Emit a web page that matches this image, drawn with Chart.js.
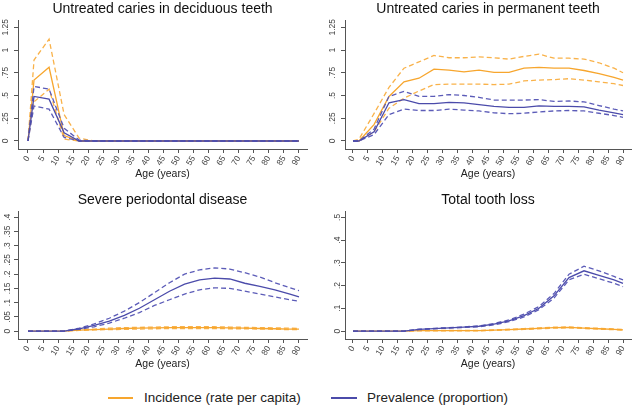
<!DOCTYPE html>
<html><head><meta charset="utf-8">
<script src="https://cdn.jsdelivr.net/npm/chart.js@4"></script>
<style>
body{margin:0;background:#fff;width:635px;height:409px;position:relative;overflow:hidden;font-family:"Liberation Sans",Arial,sans-serif}
canvas{position:absolute}
.lg-line{position:absolute;height:1.5px}
.lg-text{position:absolute;font-size:13.5px;color:#222;line-height:16px;white-space:nowrap}
</style></head><body>
<canvas id="p1" width="317" height="190" style="left:0;top:0"></canvas>
<canvas id="p2" width="318" height="190" style="left:317px;top:0"></canvas>
<canvas id="p3" width="317" height="190" style="left:0;top:190px"></canvas>
<canvas id="p4" width="318" height="190" style="left:317px;top:190px"></canvas>
<div class="lg-line" style="left:108px;top:397px;width:25px;background:#F7A62E"></div>
<div class="lg-text" style="left:144px;top:390px">Incidence (rate per capita)</div>
<div class="lg-line" style="left:331px;top:397px;width:26px;background:#4B4BAA"></div>
<div class="lg-text" style="left:367px;top:390px">Prevalence (proportion)</div>
<script>
// Age points (years)
const ages = [0, 2, 7, 12, 17, 22, 27, 32, 37, 42, 47, 52, 57, 62, 67, 72, 77, 82, 87, 90];
const xTicks = [0,5,10,15,20,25,30,35,40,45,50,55,60,65,70,75,80,85,90];

// Panel 1: Untreated caries in deciduous teeth
const decIncMean = [0,0.67,0.81,0.06,0,0,0,0,0,0,0,0,0,0,0,0,0,0,0,0];
const decIncHi   = [0,0.89,1.12,0.29,0.03,0,0,0,0,0,0,0,0,0,0,0,0,0,0,0];
const decIncLo   = [0,0.43,0.57,0.02,0,0,0,0,0,0,0,0,0,0,0,0,0,0,0,0];
const decPrevMean= [0,0.49,0.46,0.09,0,0,0,0,0,0,0,0,0,0,0,0,0,0,0,0];
const decPrevHi  = [0,0.60,0.57,0.14,0.01,0,0,0,0,0,0,0,0,0,0,0,0,0,0,0];
const decPrevLo  = [0,0.385,0.35,0.04,0,0,0,0,0,0,0,0,0,0,0,0,0,0,0,0];

// Panel 2: Untreated caries in permanent teeth
const perIncMean = [0,0,0.18,0.49,0.65,0.69,0.79,0.78,0.76,0.78,0.755,0.755,0.80,0.81,0.80,0.80,0.775,0.74,0.70,0.67];
const perIncHi   = [0,0.02,0.30,0.59,0.80,0.87,0.94,0.915,0.915,0.925,0.915,0.90,0.93,0.955,0.91,0.91,0.90,0.86,0.80,0.75];
const perIncLo   = [0,0,0.10,0.36,0.47,0.55,0.62,0.625,0.625,0.625,0.62,0.625,0.66,0.67,0.675,0.685,0.67,0.65,0.63,0.61];
const perPrevMean= [0,0,0.10,0.42,0.455,0.41,0.41,0.425,0.42,0.40,0.38,0.37,0.37,0.385,0.38,0.38,0.375,0.34,0.31,0.29];
const perPrevHi  = [0,0,0.13,0.49,0.545,0.49,0.49,0.51,0.50,0.48,0.45,0.45,0.45,0.455,0.435,0.44,0.43,0.39,0.35,0.33];
const perPrevLo  = [0,0,0.07,0.29,0.35,0.335,0.335,0.35,0.34,0.33,0.31,0.30,0.305,0.32,0.33,0.335,0.33,0.305,0.28,0.26];

// Panel 3: Severe periodontal disease
const perioIncMean = [0,0,0,0,0.003,0.005,0.007,0.009,0.010,0.011,0.012,0.012,0.012,0.012,0.011,0.010,0.009,0.008,0.007,0.007];
const perioIncHi   = [0,0,0,0,0.005,0.007,0.010,0.012,0.013,0.014,0.015,0.015,0.015,0.015,0.014,0.013,0.012,0.011,0.010,0.009];
const perioIncLo   = [0,0,0,0,0.002,0.004,0.005,0.006,0.007,0.008,0.009,0.009,0.009,0.009,0.008,0.008,0.007,0.006,0.005,0.005];
const perioPrevMean= [0,0,0,0,0.008,0.020,0.035,0.055,0.080,0.110,0.140,0.165,0.180,0.186,0.183,0.168,0.157,0.145,0.130,0.120];
const perioPrevHi  = [0,0,0,0,0.010,0.025,0.045,0.070,0.100,0.135,0.170,0.200,0.215,0.222,0.218,0.205,0.190,0.170,0.152,0.142];
const perioPrevLo  = [0,0,0,0,0.006,0.015,0.028,0.045,0.065,0.090,0.110,0.130,0.145,0.152,0.150,0.140,0.130,0.120,0.110,0.105];

// Panel 4: Total tooth loss
const tlIncMean = [0,0,0,0,0,0.002,0.002,0.002,0.002,0.002,0.004,0.006,0.009,0.012,0.015,0.016,0.013,0.010,0.007,0.005];
const tlIncHi   = [0,0,0,0,0,0.003,0.003,0.003,0.003,0.003,0.005,0.008,0.011,0.014,0.017,0.018,0.015,0.012,0.009,0.007];
const tlIncLo   = [0,0,0,0,0,0.001,0.001,0.001,0.001,0.001,0.003,0.005,0.007,0.010,0.013,0.014,0.011,0.008,0.006,0.004];
const tlPrevMean= [0,0,0,0,0,0.007,0.011,0.014,0.017,0.021,0.030,0.045,0.068,0.100,0.155,0.235,0.265,0.245,0.225,0.210];
const tlPrevHi  = [0,0,0,0,0,0.008,0.012,0.015,0.018,0.023,0.033,0.049,0.074,0.108,0.165,0.250,0.285,0.265,0.240,0.225];
const tlPrevLo  = [0,0,0,0,0,0.006,0.010,0.013,0.016,0.019,0.027,0.041,0.062,0.094,0.145,0.225,0.250,0.230,0.210,0.195];

// Y tick values and labels
const yTicksCaries = [0,0.25,0.5,0.75,1,1.25];
const yLabelsCaries = ["0",".25",".5",".75","1","1.25"];
const yTicksPerio = [0,0.05,0.1,0.15,0.2,0.25,0.3,0.35,0.4];
const yLabelsPerio = ["0",".05",".1",".15",".2",".25",".3",".35",".4"];
const yTicksTooth = [0,0.1,0.2,0.3,0.4,0.5];
const yLabelsTooth = ["0",".1",".2",".3",".4",".5"];

const ORANGE = '#F7A62E', ORANGE_D = '#F9B24A';
const BLUE = '#4B4BAA', BLUE_D = '#5C5CB8';
const AXIS = '#555';
const FONT = "'Liberation Sans', Arial, sans-serif";

function pts(arr){ return ages.map((a,i)=>({x:a, y:arr[i]})); }
function ds(arr, color, dashed){
  return {data: pts(arr), borderColor: color, borderWidth: 1.3, borderDash: dashed ? [5,3] : [],
    pointRadius: 0, fill: false, tension: 0};
}

function make(id, cfg){
  const datasets = [
    ds(cfg.prev[0], BLUE, false), ds(cfg.prev[1], BLUE_D, true), ds(cfg.prev[2], BLUE_D, true),
    ds(cfg.inc[0], ORANGE, false), ds(cfg.inc[1], ORANGE_D, true), ds(cfg.inc[2], ORANGE_D, true)
  ];
  new Chart(document.getElementById(id), {
    type: 'line',
    data: {datasets},
    options: {
      responsive: false, animation: false, devicePixelRatio: 1,
      layout: {padding: {left: 0, right: cfg.padRight, top: 0, bottom: 0}},
      plugins: {
        legend: {display: false}, tooltip: {enabled: false},
        title: {display: true, text: cfg.title, fullSize: false, color: '#111',
          font: {family: FONT, size: 14, weight: 'normal'},
          padding: {top: cfg.titleTop, bottom: cfg.titleH - cfg.titleTop - 16.8}}
      },
      scales: {
        x: {type: 'linear', min: cfg.xmin, max: 92.66,
          afterBuildTicks: s => { s.ticks = xTicks.map(v => ({value: v})); },
          afterFit: s => { s.height = 41; },
          grid: {drawOnChartArea: false, drawTicks: true, tickLength: 4, color: AXIS},
          border: {display: true, color: AXIS, width: 1},
          ticks: {autoSkip: false, minRotation: 58, maxRotation: 58, padding: 1, color: '#444',
            font: {family: FONT, size: 8.5}},
          title: {display: true, text: 'Age (years)', color: '#222',
            font: {family: FONT, size: 10.5}, padding: {top: 0, bottom: 9.7}}
        },
        y: {type: 'linear', min: cfg.ymin, max: cfg.ymax,
          afterBuildTicks: s => { s.ticks = cfg.yTicks.map(v => ({value: v})); },
          afterFit: s => { s.width = cfg.yWidth; },
          grid: {drawOnChartArea: false, drawTicks: true, tickLength: 4, color: AXIS},
          border: {display: true, color: AXIS, width: 1},
          ticks: {autoSkip: false, minRotation: 90, maxRotation: 90, crossAlign: 'center', padding: cfg.yPad,
            color: '#444', font: {family: FONT, size: 8.5},
            callback: (v, i) => cfg.yLabels[i]}
        }
      }
    }
  });
}

make('p1', {title: 'Untreated caries in deciduous teeth', padRight: 10, titleTop: 1, titleH: 20,
  xmin: -3.32, ymin: -0.088, ymax: 1.33, yTicks: yTicksCaries, yLabels: yLabelsCaries, yWidth: 18, yPad: 0,
  inc: [decIncMean, decIncHi, decIncLo], prev: [decPrevMean, decPrevHi, decPrevLo]});
make('p2', {title: 'Untreated caries in permanent teeth', padRight: 4, titleTop: 1, titleH: 20,
  xmin: -2.66, ymin: -0.088, ymax: 1.33, yTicks: yTicksCaries, yLabels: yLabelsCaries, yWidth: 28, yPad: 0,
  inc: [perIncMean, perIncHi, perIncLo], prev: [perPrevMean, perPrevHi, perPrevLo]});
make('p3', {title: 'Severe periodontal disease', padRight: 10, titleTop: 1.5, titleH: 21,
  xmin: -3.32, ymin: -0.028, ymax: 0.422, yTicks: yTicksPerio, yLabels: yLabelsPerio, yWidth: 18, yPad: 0,
  inc: [perioIncMean, perioIncHi, perioIncLo], prev: [perioPrevMean, perioPrevHi, perioPrevLo]});
make('p4', {title: 'Total tooth loss', padRight: 4, titleTop: 1.5, titleH: 21,
  xmin: -2.66, ymin: -0.035, ymax: 0.528, yTicks: yTicksTooth, yLabels: yLabelsTooth, yWidth: 28, yPad: 0,
  inc: [tlIncMean, tlIncHi, tlIncLo], prev: [tlPrevMean, tlPrevHi, tlPrevLo]});
</script>
</body></html>
